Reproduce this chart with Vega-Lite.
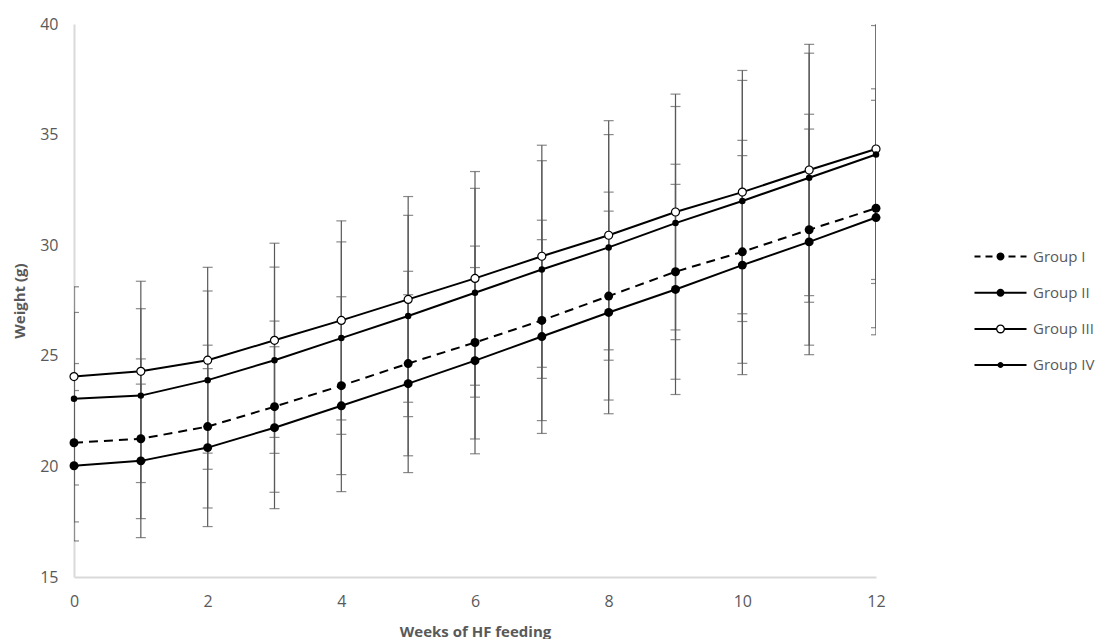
{
  "$schema": "https://vega.github.io/schema/vega-lite/v6.json",
  "width": 802,
  "height": 553,
  "autosize": "none",
  "padding": {"left": 74, "top": 24, "right": 225, "bottom": 62},
  "background": "white",
  "config": {"view": {"stroke": null}, "font": "Open Sans"},
  "data": {"values": [
    {"week": 0, "group": "Group I", "mean": 21.07, "lo": 17.49, "hi": 24.65},
    {"week": 1, "group": "Group I", "mean": 21.25, "lo": 17.64, "hi": 24.86},
    {"week": 2, "group": "Group I", "mean": 21.8, "lo": 18.12, "hi": 25.48},
    {"week": 3, "group": "Group I", "mean": 22.7, "lo": 18.83, "hi": 26.57},
    {"week": 4, "group": "Group I", "mean": 23.65, "lo": 19.63, "hi": 27.67},
    {"week": 5, "group": "Group I", "mean": 24.65, "lo": 20.48, "hi": 28.82},
    {"week": 6, "group": "Group I", "mean": 25.6, "lo": 21.24, "hi": 29.96},
    {"week": 7, "group": "Group I", "mean": 26.6, "lo": 22.07, "hi": 31.13},
    {"week": 8, "group": "Group I", "mean": 27.7, "lo": 23.0, "hi": 32.4},
    {"week": 9, "group": "Group I", "mean": 28.8, "lo": 23.94, "hi": 33.66},
    {"week": 10, "group": "Group I", "mean": 29.7, "lo": 24.66, "hi": 34.74},
    {"week": 11, "group": "Group I", "mean": 30.7, "lo": 25.48, "hi": 35.92},
    {"week": 12, "group": "Group I", "mean": 31.67, "lo": 26.27, "hi": 37.07},
    {"week": 0, "group": "Group II", "mean": 20.03, "lo": 16.63, "hi": 23.43},
    {"week": 1, "group": "Group II", "mean": 20.25, "lo": 16.78, "hi": 23.72},
    {"week": 2, "group": "Group II", "mean": 20.85, "lo": 17.28, "hi": 24.42},
    {"week": 3, "group": "Group II", "mean": 21.75, "lo": 18.09, "hi": 25.41},
    {"week": 4, "group": "Group II", "mean": 22.74, "lo": 18.86, "hi": 26.62},
    {"week": 5, "group": "Group II", "mean": 23.74, "lo": 19.72, "hi": 27.76},
    {"week": 6, "group": "Group II", "mean": 24.78, "lo": 20.57, "hi": 28.99},
    {"week": 7, "group": "Group II", "mean": 25.87, "lo": 21.49, "hi": 30.25},
    {"week": 8, "group": "Group II", "mean": 26.96, "lo": 22.38, "hi": 31.54},
    {"week": 9, "group": "Group II", "mean": 28.0, "lo": 23.25, "hi": 32.75},
    {"week": 10, "group": "Group II", "mean": 29.1, "lo": 24.15, "hi": 34.05},
    {"week": 11, "group": "Group II", "mean": 30.15, "lo": 25.05, "hi": 35.25},
    {"week": 12, "group": "Group II", "mean": 31.25, "lo": 25.95, "hi": 36.55},
    {"week": 0, "group": "Group III", "mean": 24.06, "lo": 20.0, "hi": 28.12},
    {"week": 1, "group": "Group III", "mean": 24.3, "lo": 20.23, "hi": 28.37},
    {"week": 2, "group": "Group III", "mean": 24.8, "lo": 20.6, "hi": 29.0},
    {"week": 3, "group": "Group III", "mean": 25.7, "lo": 21.31, "hi": 30.09},
    {"week": 4, "group": "Group III", "mean": 26.6, "lo": 22.1, "hi": 31.1},
    {"week": 5, "group": "Group III", "mean": 27.55, "lo": 22.9, "hi": 32.2},
    {"week": 6, "group": "Group III", "mean": 28.5, "lo": 23.67, "hi": 33.33},
    {"week": 7, "group": "Group III", "mean": 29.5, "lo": 24.48, "hi": 34.52},
    {"week": 8, "group": "Group III", "mean": 30.45, "lo": 25.27, "hi": 35.63},
    {"week": 9, "group": "Group III", "mean": 31.5, "lo": 26.17, "hi": 36.83},
    {"week": 10, "group": "Group III", "mean": 32.4, "lo": 26.9, "hi": 37.9},
    {"week": 11, "group": "Group III", "mean": 33.4, "lo": 27.72, "hi": 39.08},
    {"week": 12, "group": "Group III", "mean": 34.35, "lo": 28.45, "hi": 40.25},
    {"week": 0, "group": "Group IV", "mean": 23.06, "lo": 19.16, "hi": 26.96},
    {"week": 1, "group": "Group IV", "mean": 23.2, "lo": 19.27, "hi": 27.13},
    {"week": 2, "group": "Group IV", "mean": 23.9, "lo": 19.87, "hi": 27.93},
    {"week": 3, "group": "Group IV", "mean": 24.8, "lo": 20.59, "hi": 29.01},
    {"week": 4, "group": "Group IV", "mean": 25.8, "lo": 21.45, "hi": 30.15},
    {"week": 5, "group": "Group IV", "mean": 26.8, "lo": 22.25, "hi": 31.35},
    {"week": 6, "group": "Group IV", "mean": 27.85, "lo": 23.13, "hi": 32.57},
    {"week": 7, "group": "Group IV", "mean": 28.9, "lo": 23.98, "hi": 33.82},
    {"week": 8, "group": "Group IV", "mean": 29.9, "lo": 24.8, "hi": 35.0},
    {"week": 9, "group": "Group IV", "mean": 31.0, "lo": 25.73, "hi": 36.27},
    {"week": 10, "group": "Group IV", "mean": 32.0, "lo": 26.55, "hi": 37.45},
    {"week": 11, "group": "Group IV", "mean": 33.05, "lo": 27.42, "hi": 38.68},
    {"week": 12, "group": "Group IV", "mean": 34.1, "lo": 28.27, "hi": 39.93}
  ]},
  "encoding": {
    "x": {
      "field": "week", "type": "quantitative",
      "scale": {"domain": [0, 12], "nice": false},
      "axis": {
        "values": [0, 2, 4, 6, 8, 10, 12],
        "title": "Weeks of HF feeding",
        "grid": false, "ticks": false, "labelFlush": false,
        "domainColor": "#d9d9d9", "domainWidth": 2,
        "labelFont": "Open Sans", "labelFontSize": 16, "labelColor": "#595959", "labelPadding": 16,
        "titleFont": "Open Sans", "titleFontSize": 15, "titleFontWeight": "bold", "titleColor": "#595959", "titlePadding": 15
      }
    }
  },
  "layer": [
    {
      "mark": {"type": "rule", "color": "#595959", "strokeWidth": 1.2, "clip": true},
      "encoding": {
        "y": {
          "field": "lo", "type": "quantitative", "title": "Weight (g)",
          "scale": {"domain": [15, 40], "nice": false},
          "axis": {
            "values": [15, 20, 25, 30, 35, 40],
            "grid": false, "ticks": false,
            "domainColor": "#d9d9d9", "domainWidth": 2,
            "labelFont": "Open Sans", "labelFontSize": 16, "labelColor": "#595959", "labelPadding": 16,
            "titleFont": "Open Sans", "titleFontSize": 15, "titleFontWeight": "bold", "titleColor": "#595959", "titlePadding": 12
          }
        },
        "y2": {"field": "hi"}
      }
    },
    {
      "mark": {"type": "tick", "orient": "horizontal", "size": 10, "thickness": 1.2, "color": "#595959", "clip": true},
      "encoding": {"y": {"field": "lo", "type": "quantitative", "title": "Weight (g)"}}
    },
    {
      "mark": {"type": "tick", "orient": "horizontal", "size": 10, "thickness": 1.2, "color": "#595959", "clip": true},
      "encoding": {"y": {"field": "hi", "type": "quantitative", "title": "Weight (g)"}}
    },
    {
      "transform": [{"filter": "datum.group == 'Group I'"}],
      "mark": {"type": "line", "color": "black", "strokeWidth": 2, "strokeDash": [9, 6]},
      "encoding": {"y": {"field": "mean", "type": "quantitative", "title": "Weight (g)"}}
    },
    {
      "transform": [{"filter": "datum.group != 'Group I'"}],
      "mark": {"type": "line", "color": "black", "strokeWidth": 2},
      "encoding": {
        "y": {"field": "mean", "type": "quantitative", "title": "Weight (g)"},
        "detail": {"field": "group", "type": "nominal"}
      }
    },
    {
      "transform": [{"filter": "datum.group == 'Group I' || datum.group == 'Group II'"}],
      "mark": {"type": "point", "filled": true, "color": "black", "size": 80, "opacity": 1},
      "encoding": {"y": {"field": "mean", "type": "quantitative", "title": "Weight (g)"}}
    },
    {
      "transform": [{"filter": "datum.group == 'Group III'"}],
      "mark": {"type": "point", "filled": true, "fill": "white", "stroke": "black", "strokeWidth": 1.2, "size": 64, "opacity": 1},
      "encoding": {"y": {"field": "mean", "type": "quantitative", "title": "Weight (g)"}}
    },
    {
      "transform": [{"filter": "datum.group == 'Group IV'"}],
      "mark": {"type": "point", "filled": true, "color": "black", "size": 42, "opacity": 1},
      "encoding": {"y": {"field": "mean", "type": "quantitative", "title": "Weight (g)"}}
    },
    {
      "transform": [{"filter": "datum.week < 0"}],
      "mark": {"type": "point", "filled": true, "color": "black", "size": 4},
      "encoding": {
        "y": {"field": "mean", "type": "quantitative", "title": "Weight (g)"},
        "shape": {
          "field": "group", "type": "nominal",
          "scale": {
            "domain": ["Group I", "Group II", "Group III", "Group IV"],
            "range": [
              "M0,-1H6V1H0Z M11,-1H18V1H11Z M22,0A4,4 0 1,1 30,0A4,4 0 1,1 22,0Z M34,-1H41V1H34Z M46,-1H52V1H46Z",
              "M0,-1H52V1H0Z M22,0A4,4 0 1,1 30,0A4,4 0 1,1 22,0Z",
              "M0,-1H22V1H0Z M30,-1H52V1H30Z M21.5,0A4.5,4.5 0 1,1 30.5,0A4.5,4.5 0 1,1 21.5,0Z M22.8,0A3.2,3.2 0 1,0 29.2,0A3.2,3.2 0 1,0 22.8,0Z",
              "M0,-1H52V1H0Z M23,0A3,3 0 1,1 29,0A3,3 0 1,1 23,0Z"
            ]
          },
          "legend": {
            "title": null, "orient": "none", "legendX": 893, "legendY": 225,
            "symbolSize": 4, "symbolOpacity": 1, "symbolFillColor": "black", "symbolStrokeWidth": 0,
            "labelFont": "Open Sans", "labelFontSize": 15, "labelColor": "#595959", "labelOffset": 51,
            "rowPadding": 20.2
          }
        }
      }
    }
  ]
}
